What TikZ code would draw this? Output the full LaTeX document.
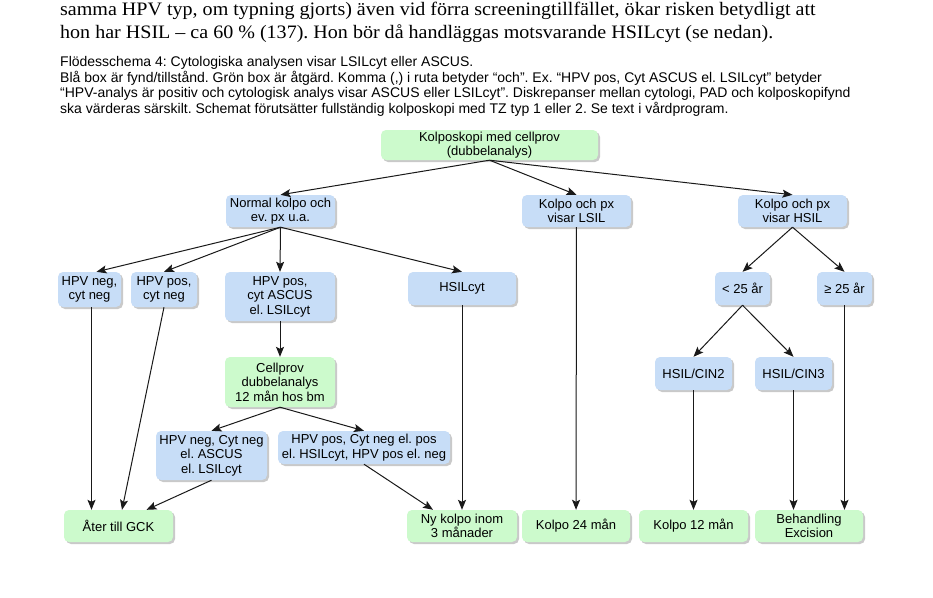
\documentclass[tikz,border=0pt]{standalone}
\usepackage{fontspec}
\setmainfont{Liberation Sans}
\newfontfamily\proseserif[FakeStretch=1.055]{Liberation Serif}
\usetikzlibrary{positioning,arrows.meta,shadows}
\definecolor{fyndblue}{RGB}{199,221,247}
\definecolor{atgardgreen}{RGB}{204,250,204}
\frenchspacing

\begin{document}
\begin{tikzpicture}[
  x=1pt, y=-1pt,
  >={Stealth[length=10pt,width=8pt,inset=2pt]},
  box/.style     = {rounded corners=5pt, align=center, inner sep=1pt,
                    font=\fontsize{13}{14.5}\selectfont,
                    drop shadow={shadow xshift=2pt, shadow yshift=-2pt, opacity=0.35, fill=black!60}},
  fynd/.style    = {box, fill=fyndblue},
  atgard/.style  = {box, fill=atgardgreen},
  flow/.style    = {->, draw=black!90, line width=1pt},
  prose/.style   = {anchor=base west, inner sep=0pt, font=\proseserif\fontsize{19}{22}\selectfont},
  legend/.style  = {anchor=base west, inner sep=0pt, font=\fontsize{14}{15}\selectfont},
]
\fill[white] (0,0) rectangle (933,597);
\useasboundingbox (0,0) rectangle (933,597);

% Running text above the chart
\node[prose] (prose1) at (60,16) {samma HPV typ, om typning gjorts) även vid förra screeningtillfället, ökar risken betydligt att};
\node[prose] (prose2) at (60,38) {hon har HSIL – ca 60 \% (137). Hon bör då handläggas motsvarande HSILcyt (se nedan).};

% Chart caption
\node[legend] (cap1) at (60,66) {Flödesschema 4: Cytologiska analysen visar LSILcyt eller ASCUS.};
\node[legend] (cap2) at (60,82) {Blå box är fynd/tillstånd. Grön box är åtgärd. Komma (,) i ruta betyder “och”. Ex. “HPV pos, Cyt ASCUS el. LSILcyt” betyder};
\node[legend] (cap3) at (60,97) {“HPV-analys är positiv och cytologisk analys visar ASCUS eller LSILcyt”. Diskrepanser mellan cytologi, PAD och kolposkopifynd};
\node[legend] (cap4) at (60,113) {ska värderas särskilt. Schemat förutsätter fullständig kolposkopi med TZ typ 1 eller 2. Se text i vårdprogram.};

% Start
\node[atgard, minimum width=217pt, minimum height=30pt] (kolp) at (489.5,145) {Kolposkopi med cellprov\\(dubbelanalys)};

% Colposcopy findings
\node[fynd, minimum width=109pt, minimum height=32pt] (normal) at (280.5,211) {Normal kolpo och\\ev. px u.a.};
\node[fynd, minimum width=109pt, minimum height=32pt] (lsil)   at (576.5,211) {Kolpo och px\\visar LSIL};
\node[fynd, minimum width=109pt, minimum height=32pt] (hsil)   at (792.5,211) {Kolpo och px\\visar HSIL};

% Cytology / age
\node[fynd, minimum width=63pt,  minimum height=35pt] (hpvnn)   at (89.5,289.5) {HPV neg,\\cyt neg};
\node[fynd, minimum width=66pt,  minimum height=35pt] (hpvpn)   at (164,289.5)  {HPV pos,\\cyt neg};
\node[fynd, minimum width=110pt, minimum height=49pt] (ascus)   at (280,296.5)  {HPV pos,\\cyt ASCUS\\el. LSILcyt};
\node[fynd, minimum width=108pt, minimum height=33pt] (hsilcyt) at (462,288.5)  {HSILcyt};
\node[fynd, minimum width=55pt,  minimum height=33pt] (young)   at (742.5,288.5) {< 25 år};
\node[fynd, minimum width=55pt,  minimum height=33pt] (old)     at (844.5,288.5) {≥ 25 år};

% Follow-up
\node[atgard, minimum width=110pt, minimum height=50pt] (cellprov) at (280,382) {Cellprov\\dubbelanalys\\12 mån hos bm};
\node[fynd, minimum width=111pt, minimum height=49pt] (neg) at (211.5,455.5) {HPV neg, Cyt neg\\el. ASCUS\\el. LSILcyt};
\node[fynd, minimum width=172pt, minimum height=33pt] (pos) at (364,447.5) {HPV pos, Cyt neg el. pos\\el. HSILcyt, HPV pos el. neg};
\node[fynd, minimum width=77pt, minimum height=33pt] (cin2) at (693.5,373.5) {HSIL/CIN2};
\node[fynd, minimum width=77pt, minimum height=33pt] (cin3) at (793.5,373.5) {HSIL/CIN3};

% Actions
\node[atgard, minimum width=109pt, minimum height=32pt] (ater) at (118.5,526) {Åter till GCK};
\node[atgard, minimum width=110pt, minimum height=32pt] (ny)   at (462,526)   {Ny kolpo inom\\3 månader};
\node[atgard, minimum width=108pt, minimum height=32pt] (k24)  at (576,526)   {Kolpo 24 mån};
\node[atgard, minimum width=109pt, minimum height=32pt] (k12)  at (693.5,526) {Kolpo 12 mån};
\node[atgard, minimum width=108pt, minimum height=32pt] (beh)  at (809,526)   {Behandling\\Excision};

% Connectors
\draw[flow] (kolp.south) -- (normal.north);
\draw[flow] (kolp.south) -- (lsil.north);
\draw[flow] (kolp.south) -- (hsil.north);

\draw[flow] (normal.south) -- ([xshift=7pt]hpvnn.north);
\draw[flow] (normal.south) -- (hpvpn.north);
\draw[flow] (normal.south) -- (ascus.north);
\draw[flow] (normal.south) -- (hsilcyt.north);

\draw[flow] ([xshift=2pt]hpvnn.south) -- ([xshift=2pt]hpvnn.south |- ater.north);
\draw[flow] (hpvpn.south) -- ([xshift=3.5pt]ater.north);
\draw[flow] (ascus) -- (cellprov);
\draw[flow] (cellprov.south) -- (neg.north);
\draw[flow] (cellprov.south) -- (pos.north);
\draw[flow] (neg.south) -- ([xshift=28pt]ater.north);
\draw[flow] (pos.south) -- ([xshift=-29pt]ny.north);
\draw[flow] (hsilcyt) -- (ny);

\draw[flow] (lsil) -- (k24);

\draw[flow] (hsil.south) -- (young.north);
\draw[flow] (hsil.south) -- (old.north);
\draw[flow] (young.south) -- (cin2.north);
\draw[flow] (young.south) -- (cin3.north);
\draw[flow] (cin2) -- (k12);
\draw[flow] (cin3.south) -- (cin3.south |- beh.north);
\draw[flow] (old.south) -- (old.south |- beh.north);
\end{tikzpicture}
\end{document}
